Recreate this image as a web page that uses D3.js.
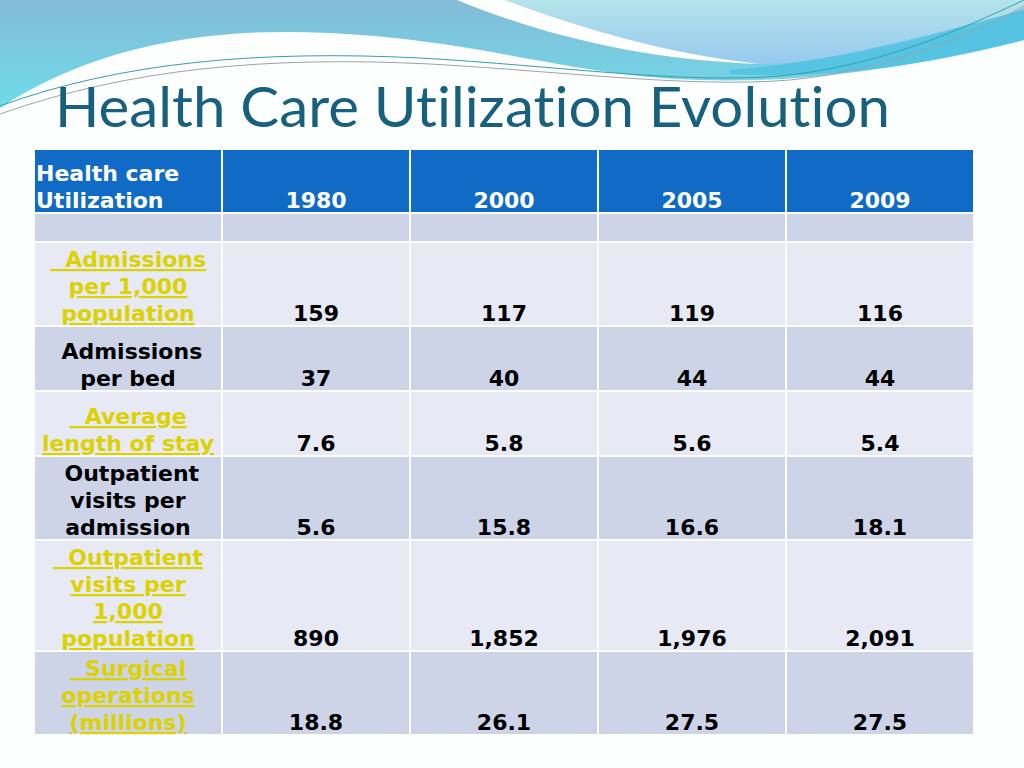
<!DOCTYPE html>
<html>
<head>
<meta charset="utf-8">
<script src="https://cdn.jsdelivr.net/npm/d3@7"></script>
<style>
  html, body { margin: 0; padding: 0; background: #fdfefe; }
  svg { display: block; }
</style>
</head>
<body>
<script>
// slide: table of health care utilization by year

const years = ['1980', '2000', '2005', '2009'];

// row labels, one entry per line
const rowLabels = [
    ['\u00a0\u00a0Admissions', 'per 1,000', 'population'],
    ['\u00a0Admissions', 'per bed'],
    ['\u00a0\u00a0Average', 'length of stay'],
    ['\u00a0Outpatient', 'visits per', 'admission'],
    ['\u00a0\u00a0Outpatient', 'visits per', '1,000', 'population'],
    ['\u00a0\u00a0Surgical', 'operations', '(millions)']
];
// labels that were hyperlinks in the slide (yellow + underline)
const rowLinked = [true, false, true, false, true, true];

const values1980 = [159, 37, 7.6, 5.6, 890, 18.8];
const values2000 = [117, 40, 5.8, 15.8, 1852, 26.1];
const values2005 = [119, 44, 5.6, 16.6, 1976, 27.5];
const values2009 = [116, 44, 5.4, 18.1, 2091, 27.5];

const rowFormats = [',d', ',d', '.1f', '.1f', ',d', '.1f'];
const headerLabel = ['Health care', 'Utilization'];

const width = 1024;
const height = 768;

const svg = d3.select('body').append('svg')
    .attr('width', width)
    .attr('height', height);

// ---- background decoration (top waves) ----
const defs = svg.append('defs');
const g1 = defs.append('linearGradient').attr('id', 'cyanGrad')
    .attr('x1', 0).attr('y1', 0).attr('x2', 0).attr('y2', 1);
g1.append('stop').attr('offset', '0%').attr('stop-color', '#84bbd8');
g1.append('stop').attr('offset', '100%').attr('stop-color', '#6edbe9');

const g2 = defs.append('linearGradient').attr('id', 'lightGrad')
    .attr('x1', 0).attr('y1', 0).attr('x2', 0).attr('y2', 1);
g2.append('stop').attr('offset', '0%').attr('stop-color', '#b4e4ea');
g2.append('stop').attr('offset', '100%').attr('stop-color', '#98c9ef');

const deco = svg.append('g');

deco.append('path')
    .attr('d', 'M0,0 H1024 V40 C930,62 820,84 700,80 C560,76 470,34 290,32 C180,31 80,55 0,108 Z')
    .attr('fill', 'url(#cyanGrad)');

deco.append('path')
    .attr('d', 'M505,0 H1024 V8 C950,38 860,62 760,64 C665,54 580,28 505,0 Z')
    .attr('fill', 'url(#lightGrad)');

deco.append('path')
    .attr('d', 'M457,0 H505 C580,28 665,54 760,64 C640,60 540,34 457,0 Z')
    .attr('fill', '#ffffff');

deco.append('path')
    .attr('d', 'M730,70 C840,62 940,32 1024,10 V40 C940,62 840,80 730,74 Z')
    .attr('fill', '#4fc2e2')
    .attr('opacity', 0.85);

deco.append('path')
    .attr('d', 'M0,106 C120,62 260,50 420,58 C560,66 680,84 780,76 C880,66 960,30 1024,0')
    .attr('fill', 'none')
    .attr('stroke', '#3a9ea6')
    .attr('stroke-width', 1);

deco.append('path')
    .attr('d', 'M0,114 C130,68 270,56 430,64 C570,72 690,88 790,80 C890,70 970,36 1024,6')
    .attr('fill', 'none')
    .attr('stroke', '#9aa5aa')
    .attr('stroke-width', 1);

// ---- title ----
svg.append('text')
    .attr('x', 55)
    .attr('y', 127)
    .attr('textLength', 835)
    .attr('lengthAdjust', 'spacingAndGlyphs')
    .style('font-family', 'Lato, "Open Sans", sans-serif')
    .style('font-size', '57px')
    .style('font-variant-ligatures', 'none')
    .attr('fill', '#17607e')
    .text('Health Care Utilization Evolution');

// ---- table ----
const columns = ['label', ...years];
const x = d3.scaleBand()
    .domain(columns)
    .range([35, 973])
    .paddingInner(0.0107);

const series = [values1980, values2000, values2005, values2009];

// build the rows: header, blank spacer, data rows
const rows = [];
rows.push({ type: 'header', lines: 2 });
rows.push({ type: 'blank', lines: 0 });
rowLabels.forEach((lab, i) => {
    rows.push({ type: 'data', idx: i, lines: lab.length });
});

const lineH = 27;
const gap = 2;
let yPos = 150;
rows.forEach((r, i) => {
    if (r.type === 'header') r.h = 62;
    else if (r.type === 'blank') r.h = 27;
    else r.h = Math.max(63, lineH * r.lines + 1);
    r.y = yPos;
    yPos += r.h + gap;
    // banding: blank row dark, then alternate
    r.fill = r.type === 'header' ? '#0f6bc5' : (i % 2 === 1 ? '#cdd4e8' : '#e7eaf4');
});

const fontFam = 'Verdana, "DejaVu Sans", sans-serif';

const rowG = svg.append('g').selectAll('g')
    .data(rows)
    .enter()
    .append('g')
    .attr('transform', (d) => `translate(0,${d.y})`);

rowG.selectAll('rect')
    .data((d) => columns.map((c) => ({ row: d, col: c })))
    .enter()
    .append('rect')
    .attr('x', (d) => x(d.col))
    .attr('y', 0)
    .attr('width', x.bandwidth())
    .attr('height', (d) => d.row.h)
    .attr('fill', (d) => d.row.fill);

// put a stack of lines, bottom-aligned, into a cell
const addLines = (sel, lines, cx, anchor, bottom, color, underline) => {
    const t = sel.append('text')
        .attr('text-anchor', anchor)
        .style('font-family', fontFam)
        .style('font-size', '22px')
        .style('font-weight', 'bold')
        .attr('fill', color)
        .style('text-decoration', underline ? 'underline' : 'none');
    const n = lines.length;
    lines.forEach((ln, k) => {
        t.append('tspan')
            .attr('x', cx)
            .attr('y', bottom - 4 - (n - 1 - k) * lineH)
            .text(ln);
    });
};

rowG.each(function (d) {
    const g = d3.select(this);
    if (d.type === 'header') {
        addLines(g, headerLabel, x('label') + 1, 'start', d.h, '#ffffff', false);
        years.forEach((yr) => {
            addLines(g, [yr], x(yr) + x.bandwidth() / 2, 'middle', d.h, '#ffffff', false);
        });
    } else if (d.type === 'data') {
        const linked = rowLinked[d.idx];
        addLines(g, rowLabels[d.idx], x('label') + x.bandwidth() / 2, 'middle', d.h,
            linked ? '#dcd200' : '#000000', linked);
        const fmt = d3.format(rowFormats[d.idx]);
        years.forEach((yr, j) => {
            addLines(g, [fmt(series[j][d.idx])], x(yr) + x.bandwidth() / 2, 'middle', d.h, '#000000', false);
        });
    }
});
</script>
</body>
</html>
